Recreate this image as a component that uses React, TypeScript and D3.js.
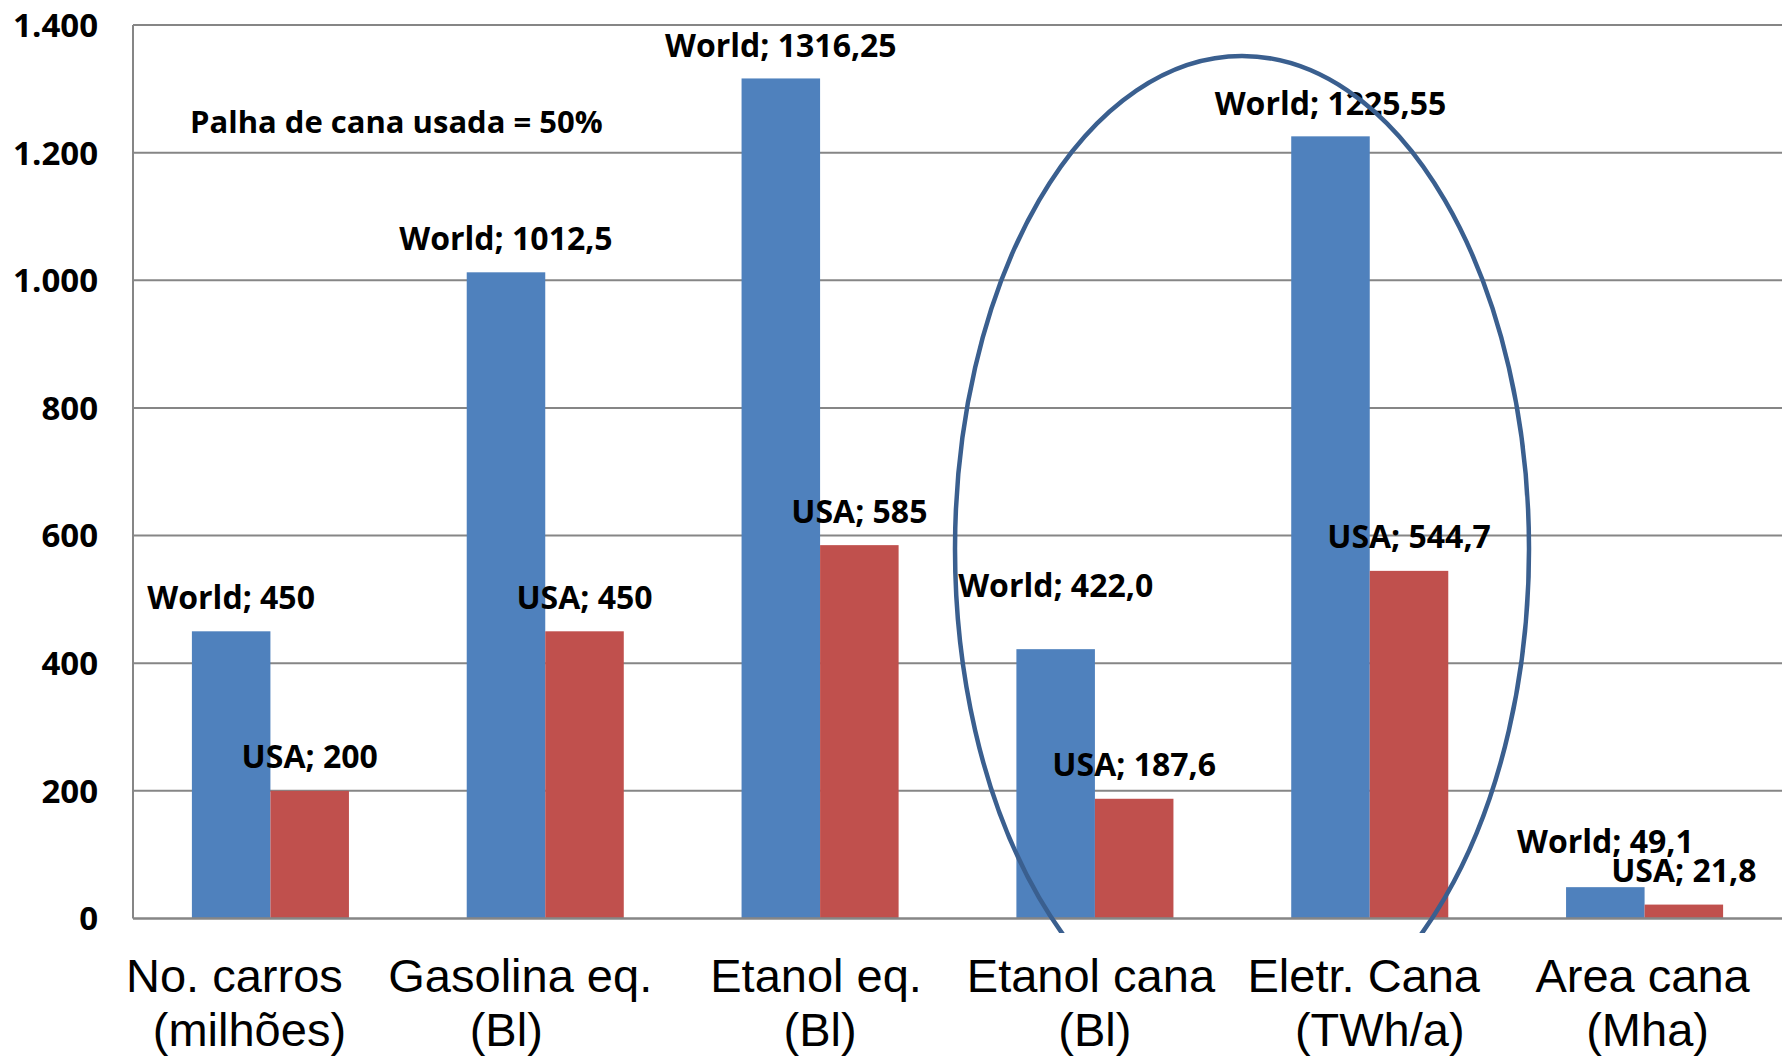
import React from "react";
import * as d3 from "d3";

// Categories, split into the two lines of each axis label
const categoryLine1 = ["No. carros", "Gasolina eq.", "Etanol eq.", "Etanol cana", "Eletr. Cana", "Area cana"];
const categoryLine2 = ["(milhões)", "(Bl)", "(Bl)", "(Bl)", "(TWh/a)", "(Mha)"];
const categories = categoryLine1.map((c, i) => `${c} ${categoryLine2[i]}`);

// Series values
const seriesNames = ["World", "USA"];
const worldValues = [450, 1012.5, 1316.25, 422.0, 1225.55, 49.1];
const usaValues = [200, 450, 585, 187.6, 544.7, 21.8];

// Value label texts (as printed)
const worldLabels = ["450", "1012,5", "1316,25", "422,0", "1225,55", "49,1"];
const usaLabels = ["200", "450", "585", "187,6", "544,7", "21,8"];

// Y axis ticks
const yTicks = [0, 200, 400, 600, 800, 1000, 1200, 1400];
const yTickLabels = ["0", "200", "400", "600", "800", "1.000", "1.200", "1.400"];

const note = "Palha de cana usada = 50%";

// Layout
const W = 1782;
const H = 1058;
const plotLeft = 133;
const plotRight = 1782;
const plotTop = 25;
const plotBottom = 918.5;
const gapRatio = 1.5; // gap between groups relative to one bar width
const colors = ["#4F81BD", "#C0504D"];
const gridColor = "#868686";
const labelFont = "'Open Sans', sans-serif";
const catFont = "'Liberation Sans', Arial, sans-serif";
// lift of each value label above its bar
const worldLift = [34, 34, 33, 64, 33, 46];
const usaLift = [34, 34, 34, 34, 34, 34];
// horizontal nudges for the two lines of each category label
const line1Dx = [-36, -25, -4, -4, -6, -2];
const line2Dx = [-21, -39, 0, 0, 10, 3];

export default function App() {
  const y = d3.scaleLinear().domain([0, 1400]).range([plotBottom, plotTop]);
  const x0 = d3.scaleBand<string>().domain(categories).range([plotLeft, plotRight]).padding(0);
  const step = x0.bandwidth();
  const groupW = (step * 2) / (2 + gapRatio);
  const x1 = d3.scaleBand<string>().domain(seriesNames).range([0, groupW]).padding(0);
  const bw = x1.bandwidth();
  const groupStart = (c: string) => (x0(c) as number) + (step - groupW) / 2;

  const series = [
    { name: "World", values: worldValues, labels: worldLabels, lift: worldLift },
    { name: "USA", values: usaValues, labels: usaLabels, lift: usaLift },
  ];

  // Highlight ellipse around the two sugar-cane categories
  const ecx = 1242;
  const ecy = 549;
  const erx = 287;
  const ery = 493;

  return (
    <svg
      width={W}
      height={H}
      viewBox={`0 0 ${W} ${H}`}
      style={{ position: "absolute", left: 0, top: 0, background: "#fff" }}
    >
      <defs>
        <clipPath id="ellipseClip">
          <rect x={0} y={0} width={W} height={933} />
        </clipPath>
      </defs>
      <rect x={0} y={0} width={W} height={H} fill="#fff" />

      {/* gridlines */}
      {yTicks.slice(1).map((t) => (
        <line key={t} x1={plotLeft} x2={plotRight} y1={y(t)} y2={y(t)} stroke={gridColor} strokeWidth={2} />
      ))}

      {/* bars */}
      {series.map((s, si) =>
        categories.map((c, i) => (
          <rect
            key={`${si}-${i}`}
            x={groupStart(c) + (x1(s.name) as number)}
            y={y(s.values[i])}
            width={bw}
            height={y(0) - y(s.values[i])}
            fill={colors[si]}
          />
        ))
      )}

      {/* axes */}
      <line x1={plotLeft} x2={plotLeft} y1={plotTop} y2={plotBottom} stroke={gridColor} strokeWidth={2} />
      <line x1={plotLeft} x2={plotRight} y1={y(0)} y2={y(0)} stroke={gridColor} strokeWidth={2.5} />

      {/* y tick labels */}
      {yTicks.map((t, i) => (
        <text
          key={t}
          x={98}
          y={y(t)}
          dy="0.36em"
          textAnchor="end"
          fontFamily={labelFont}
          fontWeight={700}
          fontSize={33}
          fill="#000"
        >
          {yTickLabels[i]}
        </text>
      ))}

      {/* category labels */}
      {categories.map((c, i) => {
        const cx = (x0(c) as number) + step / 2;
        return (
          <g key={c} fontFamily={catFont} fontSize={47} fill="#000" textAnchor="middle">
            <text x={cx + line1Dx[i]} y={992}>{categoryLine1[i]}</text>
            <text x={cx + line2Dx[i]} y={1046}>{categoryLine2[i]}</text>
          </g>
        );
      })}

      {/* value labels */}
      {series.map((s, si) =>
        categories.map((c, i) => (
          <text
            key={`l-${si}-${i}`}
            x={groupStart(c) + (x1(s.name) as number) + bw / 2}
            y={y(s.values[i]) - s.lift[i]}
            dy="0.36em"
            textAnchor="middle"
            fontFamily={labelFont}
            fontWeight={700}
            fontSize={32}
            fill="#000"
          >
            {`${s.name}; ${s.labels[i]}`}
          </text>
        ))
      )}

      {/* note */}
      <text x={190} y={122} dy="0.36em" fontFamily={labelFont} fontWeight={700} fontSize={31} fill="#000">
        {note}
      </text>

      {/* highlight ellipse */}
      <g clipPath="url(#ellipseClip)">
        <ellipse cx={ecx} cy={ecy} rx={erx} ry={ery} fill="none" stroke="#3A5F8F" strokeWidth={4.5} />
      </g>
    </svg>
  );
}
